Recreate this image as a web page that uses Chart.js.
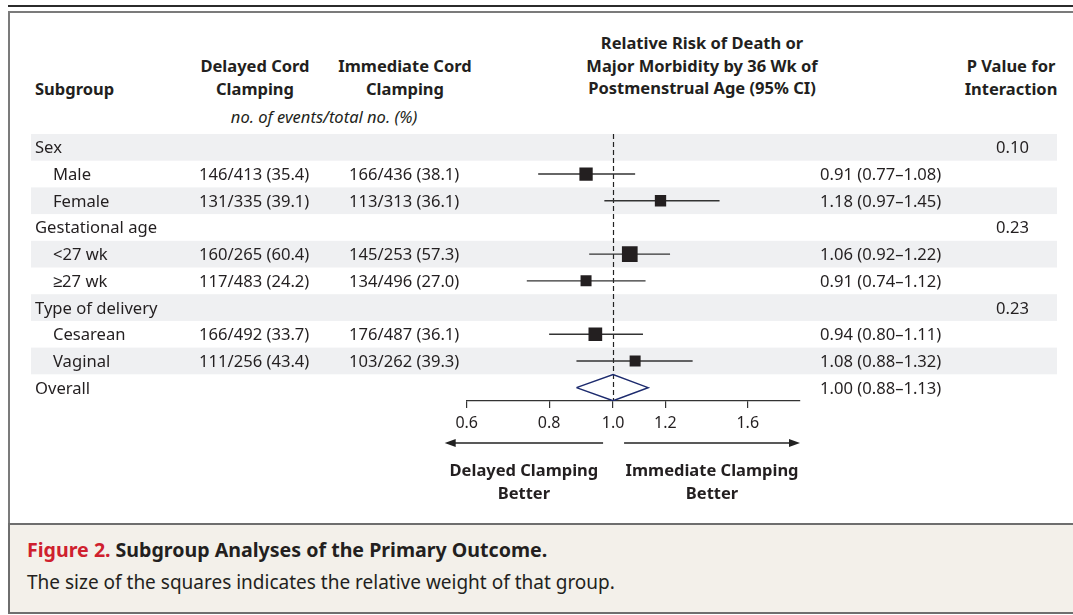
<!DOCTYPE html>
<html>
<head>
<meta charset="utf-8">
<title>Subgroup Analyses of the Primary Outcome</title>
<script src="https://cdn.jsdelivr.net/npm/chart.js@4.4.1/dist/chart.umd.min.js"></script>
<style>
  body { margin: 0; background: #fff; font-family: "Noto Sans", sans-serif; color: #231f20; }
  #wrap { position: relative; width: 1073px; height: 615px; overflow: hidden; }
  .rule { position: absolute; left: 8px; right: 0; top: 5px; height: 1.5px; background: #2b2b2b; }
  .box { position: absolute; left: 8px; top: 11px; width: 1100px; height: 514px; box-sizing: border-box;
         border: 2px solid #7b7b7b; border-right: none; background: #fff; }
  .caption { position: absolute; left: 8px; top: 523px; width: 1100px; height: 91px; box-sizing: border-box;
             border: 2px solid #6e6e6e; border-right: none; background: #f3f0ea; padding: 9px 0 0 17px;
             font-size: 19px; line-height: 32px; }
  .caption b { font-weight: 700; font-size: 19.6px; }
  .caption .fig { color: #cf202e; }
  .hdr { position: absolute; font-weight: 700; font-size: 16.5px; line-height: 22.5px; text-align: center;
         white-space: nowrap; transform: translateX(-50%); }
  .note { position: absolute; font-style: italic; font-size: 16.5px; line-height: 22px; white-space: nowrap;
          transform: translateX(-50%); }
  canvas { position: absolute; left: 0; top: 0; }
</style>
</head>
<body>
<div id="wrap">
  <div class="rule"></div>
  <div class="box"></div>
  <div class="caption">
    <div><b class="fig">Figure 2.</b> <b>Subgroup Analyses of the Primary Outcome.</b></div>
    <div>The size of the squares indicates the relative weight of that group.</div>
  </div>

  <div class="hdr" style="left:35px; top:78px; transform:none;">Subgroup</div>
  <div class="hdr" style="left:255px; top:55px;">Delayed Cord<br>Clamping</div>
  <div class="hdr" style="left:405px; top:55px;">Immediate Cord<br>Clamping</div>
  <div class="note" style="left:324px; top:106px;">no. of events/total no. (%)</div>
  <div class="hdr" style="left:702px; top:32px;">Relative Risk of Death or<br>Major Morbidity by 36 Wk of<br>Postmenstrual Age (95% CI)</div>
  <div class="hdr" style="left:1011px; top:55px;">P Value for<br>Interaction</div>

  <canvas id="forest" width="1073" height="615"></canvas>
</div>

<script>
// rows of the table, top to bottom
const rowLabels = ["Sex", "Male", "Female", "Gestational age", "<27 wk", "≥27 wk",
                   "Type of delivery", "Cesarean", "Vaginal", "Overall"];
const rowIsGroup = [true, false, false, true, false, false, true, false, false, true];
const delayedCol = ["", "146/413 (35.4)", "131/335 (39.1)", "", "160/265 (60.4)", "117/483 (24.2)",
                    "", "166/492 (33.7)", "111/256 (43.4)", ""];
const immediateCol = ["", "166/436 (38.1)", "113/313 (36.1)", "", "145/253 (57.3)", "134/496 (27.0)",
                      "", "176/487 (36.1)", "103/262 (39.3)", ""];
const relRisk = [null, 0.91, 1.18, null, 1.06, 0.91, null, 0.94, 1.08, 1.00];
const ciLow   = [null, 0.77, 0.97, null, 0.92, 0.74, null, 0.80, 0.88, 0.88];
const ciHigh  = [null, 1.08, 1.45, null, 1.22, 1.12, null, 1.11, 1.32, 1.13];
// relative weight (drives the square size), overall row is a diamond
const squareWeight = [null, 0.72, 0.52, null, 1.0, 0.49, null, 0.76, 0.49, null];
const pInteraction = ["0.10", "", "", "0.23", "", "", "0.23", "", "", ""];
const xTicks = [0.6, 0.8, 1.0, 1.2, 1.6];

const TEXT = "#231f20";
const FONT = '"Noto Sans", sans-serif';

// build datasets from the arrays
const squarePts = [];
const squareRadius = [];
const datasets = [];
rowLabels.forEach((lab, i) => {
    if (relRisk[i] == null) return;
    if (squareWeight[i] != null) {
        squarePts.push({ x: relRisk[i], y: i });
        squareRadius.push(11.1 * Math.sqrt(squareWeight[i]));
        datasets.push({
            data: [{ x: ciLow[i], y: i }, { x: ciHigh[i], y: i }],
            showLine: true, borderColor: "#333", borderWidth: 1.4, pointRadius: 0, order: 2
        });
    } else {
        datasets.push({
            data: [
                { x: ciLow[i], y: i },
                { x: relRisk[i], y: i - 0.49 },
                { x: ciHigh[i], y: i },
                { x: relRisk[i], y: i + 0.49 },
                { x: ciLow[i], y: i }
            ],
            showLine: true, borderColor: "#1d2b6e", borderWidth: 1.5, borderJoinStyle: "miter",
            pointRadius: 0, fill: false, order: 3
        });
    }
});
datasets.push({
    data: squarePts, pointStyle: "rect", pointRadius: squareRadius,
    backgroundColor: TEXT, borderColor: TEXT, borderWidth: 0, order: 0
});

function arrow(ctx, xFrom, xTo, y) {
    const dir = Math.sign(xTo - xFrom);
    ctx.beginPath();
    ctx.moveTo(xFrom, y);
    ctx.lineTo(xTo - dir * 8, y);
    ctx.stroke();
    ctx.beginPath();
    ctx.moveTo(xTo, y);
    ctx.lineTo(xTo - dir * 11, y - 4);
    ctx.lineTo(xTo - dir * 11, y + 4);
    ctx.closePath();
    ctx.fill();
}

const forestDecor = {
    id: "forestDecor",
    beforeDraw(chart) {
        const { ctx } = chart;
        const ys = chart.scales.y;
        ctx.save();
        ctx.fillStyle = "#eff0f2";
        rowLabels.forEach((lab, i) => {
            if (i % 2 !== 0) return;
            const top = ys.getPixelForValue(i - 0.5);
            const bot = ys.getPixelForValue(i + 0.5);
            ctx.fillRect(31, top, 1057 - 31, bot - top);
        });
        ctx.restore();
    },
    beforeDatasetsDraw(chart) {
        const { ctx, chartArea } = chart;
        const x1 = Math.round(chart.scales.x.getPixelForValue(1)) + 0.5;
        ctx.save();
        ctx.strokeStyle = "#222";
        ctx.lineWidth = 1.2;
        ctx.setLineDash([5, 3]);
        ctx.beginPath();
        ctx.moveTo(x1, chartArea.top);
        ctx.lineTo(x1, chartArea.bottom);
        ctx.stroke();
        ctx.restore();
    },
    afterDraw(chart) {
        const { ctx } = chart;
        const xs = chart.scales.x;
        const ys = chart.scales.y;
        ctx.save();
        ctx.fillStyle = TEXT;
        ctx.font = "16.6px " + FONT;
        ctx.textBaseline = "alphabetic";
        rowLabels.forEach((lab, i) => {
            const base = ys.getPixelForValue(i) + 6;
            ctx.textAlign = "left";
            ctx.fillText(lab, rowIsGroup[i] ? 35 : 53, base);
            if (delayedCol[i]) ctx.fillText(delayedCol[i], 199, base);
            if (immediateCol[i]) ctx.fillText(immediateCol[i], 349, base);
            if (relRisk[i] != null) {
                ctx.fillText(relRisk[i].toFixed(2) + " (" + ciLow[i].toFixed(2) + "\u2013" +
                             ciHigh[i].toFixed(2) + ")", 820, base);
            }
            if (pInteraction[i]) {
                ctx.textAlign = "right";
                ctx.fillText(pInteraction[i], 1029, base);
            }
        });

        // direction arrows under the axis
        const one = xs.getPixelForValue(1);
        const leftEnd = xs.left - 22, rightEnd = xs.right;
        const ay = 443;
        ctx.strokeStyle = "#222";
        ctx.fillStyle = "#222";
        ctx.lineWidth = 1.4;
        arrow(ctx, one - 10, leftEnd, ay);
        arrow(ctx, one + 11, rightEnd, ay);

        ctx.fillStyle = TEXT;
        ctx.font = "bold 16.5px " + FONT;
        ctx.textAlign = "center";
        const lc = (leftEnd + one - 10) / 2;
        const rc = (one + 11 + rightEnd) / 2;
        ctx.fillText("Delayed Clamping", lc, 476);
        ctx.fillText("Better", lc, 499);
        ctx.fillText("Immediate Clamping", rc, 476);
        ctx.fillText("Better", rc, 499);
        ctx.restore();
    }
};

new Chart(document.getElementById("forest"), {
    type: "scatter",
    data: { datasets: datasets },
    options: {
        responsive: false,
        devicePixelRatio: 1,
        animation: false,
        events: [],
        layout: { padding: { left: 466.7, right: 273, top: 134, bottom: 184 } },
        plugins: { legend: { display: false }, tooltip: { enabled: false } },
        scales: {
            x: {
                type: "logarithmic",
                min: 0.6,
                max: 1.92,
                afterBuildTicks: (scale) => { scale.ticks = xTicks.map(v => ({ value: v })); },
                afterFit: (scale) => { scale.height = 30; },
                ticks: {
                    autoSkip: false, maxRotation: 0, padding: 6, color: TEXT,
                    font: { family: FONT, size: 16 },
                    callback: (v) => Number(v).toFixed(1)
                },
                grid: { display: true, drawOnChartArea: false, drawTicks: true, tickLength: 7,
                        color: "#333", lineWidth: 1.2 },
                border: { display: true, color: "#333", width: 1.2 }
            },
            y: { type: "linear", display: false, reverse: true, min: -0.5, max: 9.5 }
        }
    },
    plugins: [forestDecor]
});
</script>
</body>
</html>
